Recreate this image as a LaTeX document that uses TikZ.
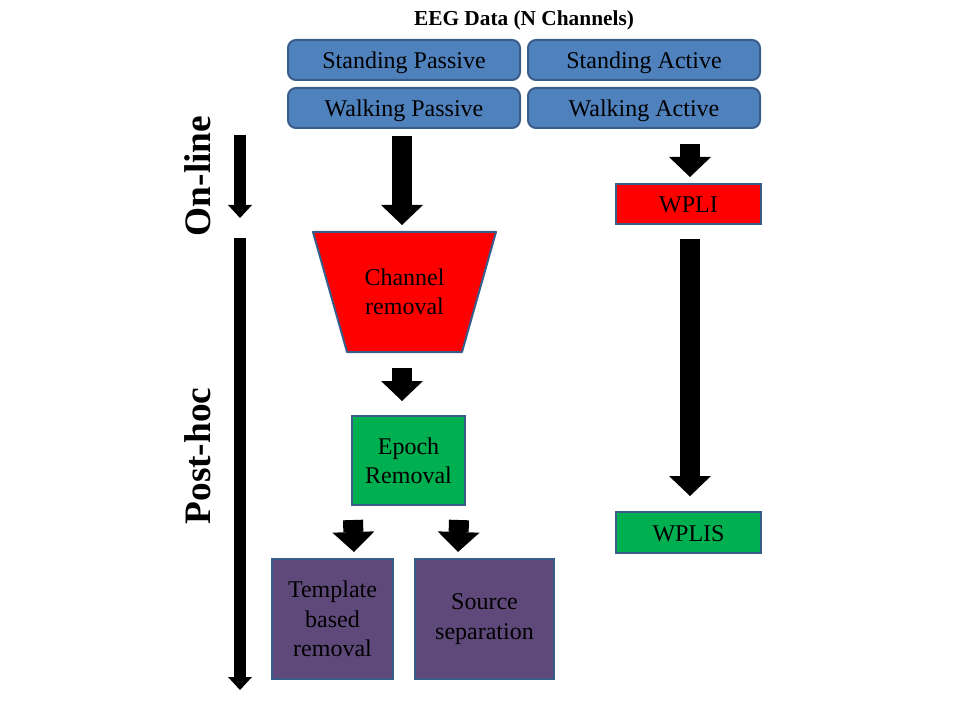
\documentclass[tikz,border=0pt]{standalone}
\usepackage{fontspec}
\setmainfont{Liberation Serif}
\usetikzlibrary{arrows.meta}
\definecolor{eegBlue}{HTML}{4F81BD}
\definecolor{eegEdge}{HTML}{385D8A}
\definecolor{eegRed}{HTML}{FF0000}
\definecolor{eegGreen}{HTML}{00B050}
\definecolor{eegPurple}{HTML}{5F497A}

\begin{document}
\begin{tikzpicture}[x=0.75pt, y=-0.75pt,
  box/.style={draw=eegEdge, line width=1.5pt, align=center, inner sep=0pt,
    font=\fontsize{18}{22}\selectfont},
  oneline/.style={text height=12.75pt, text depth=0pt},
  cond/.style={box, oneline, fill=eegBlue, rounded corners=6pt,
    minimum width=174pt, minimum height=30pt},
  bigarrow/.style={line width=15pt,
    -{Triangle[length=15pt, width=31.5pt, line width=0pt]}},
  timearrow/.style={line width=9pt,
    -{Triangle[length=9.75pt, width=18pt, line width=0pt]}},
  phase/.style={rotate=90, font=\fontsize{28}{30}\selectfont\bfseries}]
  \useasboundingbox (0,0) rectangle (960,720);

  % Recording conditions
  \node[font=\fontsize{16}{18}\selectfont\bfseries] (title) at (524,20) {EEG Data (N Channels)};
  \node[cond] (sp) at (404,60) {Standing Passive};
  \node[cond] (sa) at (644,60) {Standing Active};
  \node[cond] (wp) at (404,108) {Walking Passive};
  \node[cond] (wa) at (644,108) {Walking Active};

  % Time line
  \coordinate (onTop) at (240,135);
  \coordinate (onEnd) at (240,218);
  \coordinate (phTop) at (240,238);
  \coordinate (phEnd) at (240,690);
  \draw[timearrow] (onTop) -- (onEnd);
  \draw[timearrow] (phTop) -- (phEnd);
  \node[phase] (online) at (198,176) {On-line};
  \node[phase] (posthoc) at (198,456) {Post-hoc};

  % Artifact pipeline
  \filldraw[draw=eegEdge, fill=eegRed, line width=1.5pt, line join=round]
    (313,232) -- (496,232) -- (462,352) -- (347,352) -- cycle;
  \node[box, draw=none, minimum width=137.25pt, minimum height=90pt] (cr) at (404.5,292) {Channel\\removal};
  \node[box, fill=eegGreen, minimum width=84.75pt, minimum height=66.75pt] (ep) at (408.5,460.5) {Epoch\\Removal};
  \node[box, fill=eegPurple, minimum width=90.75pt, minimum height=90pt] (tb) at (332.5,619) {Template\\based\\removal};
  \node[box, fill=eegPurple, minimum width=104.25pt, minimum height=90pt] (ss) at (484.5,619) {Source\\separation};

  % Connectivity pipeline
  \node[box, oneline, fill=eegRed, minimum width=108.75pt, minimum height=30pt] (wpli) at (688.5,204) {WPLI};
  \node[box, oneline, fill=eegGreen, minimum width=108.75pt, minimum height=30.75pt] (wplis) at (688.5,532.5) {WPLIS};

  \draw[bigarrow] ([xshift=-1.5pt,yshift=-5.25pt]wp.south) -- ([xshift=-1.875pt,yshift=4.5pt]cr.north);
  \draw[bigarrow] ([xshift=-1.875pt,yshift=-11.25pt]cr.south) -- ([xshift=-4.875pt,yshift=10.5pt]ep.north);
  \draw[bigarrow] ([xshift=1.5pt,yshift=-10.5pt]ep.south west) -- ([xshift=16.125pt,yshift=4.5pt]tb.north);
  \draw[bigarrow] ([xshift=-5.25pt,yshift=-10.5pt]ep.south east) -- ([xshift=-19.875pt,yshift=4.5pt]ss.north);
  \draw[bigarrow] ([xshift=34.5pt,yshift=-11.25pt]wa.south) -- ([xshift=1.125pt,yshift=4.5pt]wpli.north);
  \draw[bigarrow] ([xshift=1.125pt,yshift=-10.5pt]wpli.south) -- ([xshift=1.125pt,yshift=11.25pt]wplis.north);
\end{tikzpicture}
\end{document}
